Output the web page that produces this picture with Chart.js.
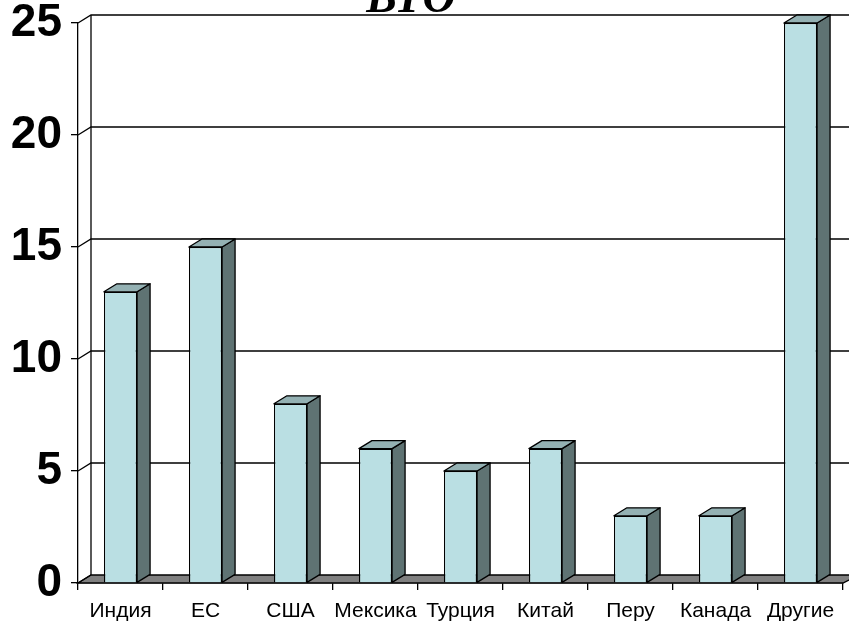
<!DOCTYPE html>
<html>
<head>
<meta charset="utf-8">
<script src="https://cdn.jsdelivr.net/npm/chart.js@4"></script>
<style>
  body { margin: 0; background: #fff; }
  canvas { display: block; }
</style>
</head>
<body>
<canvas id="wtoChart" width="849" height="628"></canvas>
<script>
const countries = ["Индия", "ЕС", "США", "Мексика", "Турция", "Китай", "Перу", "Канада", "Другие"];
const shares = [13, 15, 8, 6, 5, 6, 3, 3, 25];
const yTicks = [0, 5, 10, 15, 20, 25];
const chartTitle = "ВТО";

// 3d depth offset
const DX = 13, DY = -8;

const frontColor = "#badfe3";
const sideColor = "#5f7373";
const topColor = "#94b1b3";
const floorColor = "#808080";

const fakeThreeD = {
  id: "fakeThreeD",
  beforeDatasetsDraw(chart) {
    const { ctx, chartArea } = chart;
    const y = chart.scales.y;
    const right = chart.width + 10;
    ctx.save();
    ctx.strokeStyle = "#000";
    ctx.lineWidth = 1.3;

    // floor
    const y0 = y.getPixelForValue(0);
    ctx.fillStyle = floorColor;
    ctx.beginPath();
    ctx.moveTo(chartArea.left, y0);
    ctx.lineTo(chartArea.left + DX, y0 + DY);
    ctx.lineTo(right, y0 + DY);
    ctx.lineTo(chartArea.right, y0);
    ctx.closePath();
    ctx.fill();
    ctx.stroke();

    // back wall grid
    yTicks.forEach(v => {
      const py = y.getPixelForValue(v);
      ctx.beginPath();
      ctx.moveTo(chartArea.left, py);
      ctx.lineTo(chartArea.left + DX, py + DY);
      if (v > 0) ctx.lineTo(right, py + DY);
      ctx.stroke();
    });
    ctx.beginPath();
    ctx.moveTo(chartArea.left + DX, y.getPixelForValue(25) + DY);
    ctx.lineTo(chartArea.left + DX, y0 + DY);
    ctx.stroke();
    ctx.restore();
  },
  afterDatasetsDraw(chart) {
    const { ctx } = chart;
    const meta = chart.getDatasetMeta(0);
    ctx.save();
    ctx.strokeStyle = "#000";
    ctx.lineWidth = 1.3;
    ctx.lineJoin = "round";
    meta.data.forEach(bar => {
      const x1 = bar.x - bar.width / 2, x2 = bar.x + bar.width / 2;
      const top = bar.y, bottom = bar.base;
      // side
      ctx.fillStyle = sideColor;
      ctx.beginPath();
      ctx.moveTo(x2, top);
      ctx.lineTo(x2 + DX, top + DY);
      ctx.lineTo(x2 + DX, bottom + DY);
      ctx.lineTo(x2, bottom);
      ctx.closePath();
      ctx.fill();
      ctx.stroke();
      // top
      ctx.fillStyle = topColor;
      ctx.beginPath();
      ctx.moveTo(x1, top);
      ctx.lineTo(x1 + DX, top + DY);
      ctx.lineTo(x2 + DX, top + DY);
      ctx.lineTo(x2, top);
      ctx.closePath();
      ctx.fill();
      ctx.stroke();
    });
    ctx.restore();
  },
  afterDraw(chart) {
    const { ctx } = chart;
    ctx.save();
    ctx.fillStyle = "#000";
    ctx.font = "bold italic 46px 'Liberation Serif'";
    ctx.textAlign = "center";
    ctx.textBaseline = "alphabetic";
    ctx.fillText(chartTitle, 411, 12);
    ctx.restore();
  }
};

new Chart(document.getElementById("wtoChart"), {
  type: "bar",
  data: {
    labels: countries,
    datasets: [{
      data: shares,
      backgroundColor: frontColor,
      borderColor: "#000",
      borderWidth: 1.3,
      categoryPercentage: 1,
      barPercentage: 0.39
    }]
  },
  options: {
    responsive: false,
    animation: false,
    devicePixelRatio: 1,
    layout: { padding: { top: 23, right: 6, left: 0, bottom: 0 } },
    plugins: { legend: { display: false }, tooltip: { enabled: false }, title: { display: false } },
    scales: {
      y: {
        min: 0,
        max: 25,
        afterFit: s => { s.width = 78; s.paddingTop = 0; s.paddingBottom = 0; },
        afterBuildTicks: s => { s.ticks = yTicks.map(v => ({ value: v })); },
        ticks: {
          color: "#000",
          padding: 9,
          font: { family: "'Liberation Sans', Arial", size: 46, weight: "bold" }
        },
        grid: { drawOnChartArea: false, drawTicks: true, tickLength: 7, color: "#000", lineWidth: 1.3 },
        border: { display: true, color: "#000", width: 1.3 }
      },
      x: {
        afterFit: s => { s.height = 45; s.paddingLeft = 0; s.paddingRight = 0; },
        ticks: {
          color: "#000",
          autoSkip: false,
          maxRotation: 0,
          padding: 9,
          font: { family: "'Liberation Sans', Arial", size: 21 }
        },
        grid: { offset: true, drawOnChartArea: false, drawTicks: true, tickLength: 7, color: "#000", lineWidth: 1.3 },
        border: { display: true, color: "#000", width: 1.3 }
      }
    }
  },
  plugins: [fakeThreeD]
});
</script>
</body>
</html>
